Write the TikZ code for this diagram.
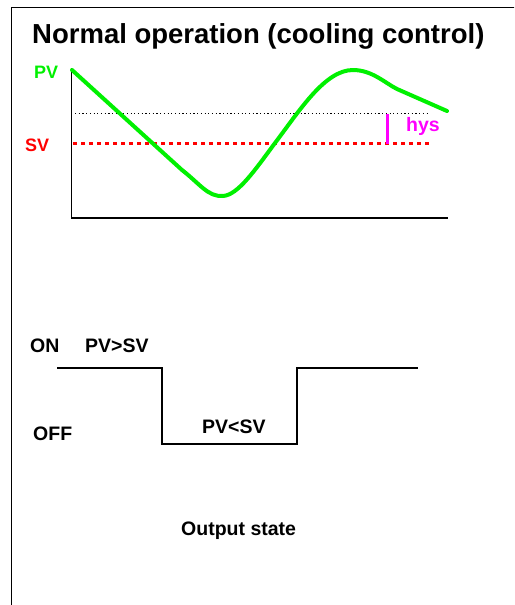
\documentclass[tikz,border=0pt]{standalone}
\usepackage{fontspec}
\setmainfont{Liberation Sans}
\begin{document}
\begin{tikzpicture}[x=1pt,y=-1pt,
  lbl/.style={font=\bfseries\fontsize{19.5}{19.5}\selectfont, inner sep=0pt, anchor=base west},
  ttl/.style={font=\bfseries\fontsize{27.5}{27.5}\selectfont, inner sep=0pt, anchor=base west},
  wave/.style={line width=1.3pt, line join=miter},
  pvcurve/.style={line width=4pt, color=pvgreen, line cap=round, line join=round}]
\definecolor{pvgreen}{RGB}{0,240,0}
\definecolor{svred}{RGB}{255,0,0}
\definecolor{hysmag}{RGB}{255,0,255}
\useasboundingbox (0,0) rectangle (514,605);
\clip (0,0) rectangle (514,605);
% frame
\draw[line width=1.5pt] (11.5,7.5) rectangle (540,640);
% title
\node[ttl] (title) at (32,43) {Normal operation (cooling control)};
% axes
\coordinate (ytop) at (71.5,68);
\coordinate (orig) at (71.5,218);
\coordinate (xend) at (448,218);
\draw[line width=1.3pt] (ytop) -- (orig) -- (xend);
% hysteresis line (dotted black)
\coordinate (hysL) at (75,113);
\coordinate (hysR) at (430,113);
\draw[line width=0.8pt, dash pattern=on 1.2pt off 2.5pt] (hysL) -- (hysR);
% SV line
\coordinate (svL) at (73,143);
\coordinate (svR) at (430,143);
\draw[svred, line width=3pt, dash pattern=on 4pt off 4pt] (svL) -- (svR);
% hys marker
\coordinate (hmT) at (387,114);
\coordinate (hmB) at (387,144);
\draw[hysmag, line width=3pt] (hmT) -- (hmB);
% PV curve
\draw[pvcurve] (72,70) -- (182,170)
  .. controls (200,184) and (208,197) .. (223,196)
  .. controls (238,195) and (255,170) .. (275,143)
  .. controls (300,110) and (325,70) .. (353,70)
  .. controls (372,70) and (385,83) .. (397,89)
  -- (447,111);
% labels
\node[lbl, text=pvgreen, font=\bfseries\fontsize{18}{18}\selectfont] (pv) at (34,78) {PV};
\node[lbl, text=svred, font=\bfseries\fontsize{18}{18}\selectfont] (sv) at (25,151) {SV};
\node[lbl, text=hysmag] (hys) at (406,131) {hys};
% output waveform
\coordinate (w0) at (57,368);
\coordinate (w1) at (162,368);
\coordinate (w2) at (162,444);
\coordinate (w3) at (297,444);
\coordinate (w4) at (297,368);
\coordinate (w5) at (418,368);
\draw[wave] (w0) -- (w1) -- (w2) -- (w3) -- (w4) -- (w5);
\node[lbl] (on) at (30,352) {ON};
\node[lbl] (gt) at (85,352) {PV>SV};
\node[lbl] (off) at (33,440) {OFF};
\node[lbl] (lt) at (202,433) {PV<SV};
\node[lbl] (out) at (181,535) {Output state};
\end{tikzpicture}
\end{document}
